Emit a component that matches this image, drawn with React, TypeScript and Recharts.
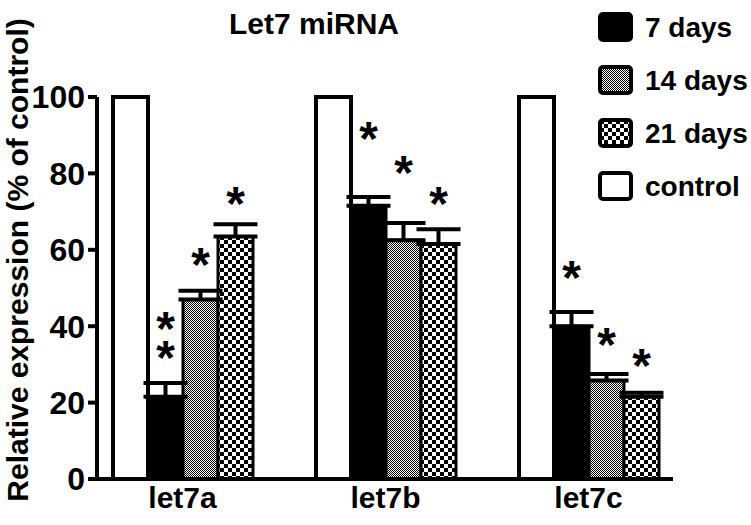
import React from 'react';
import { BarChart, Bar, XAxis, YAxis, ErrorBar, LabelList } from 'recharts';

const categories = ['let7a', 'let7b', 'let7c'];
const control = [100, 100, 100];
const days7 = [21.5, 71.5, 40];
const days14 = [47, 62.5, 25.8];
const days21 = [63.5, 61.5, 21.5];
const err7 = [3.6, 2.3, 3.7];
const err14 = [2.3, 4.5, 1.7];
const err21 = [3.2, 3.9, 1.1];
// asterisk heights (value units, centre of the lowest star) and how many
const star7 = [34.6, 92, 55.5];
const star14 = [59, 83, 38];
const star21 = [75, 75, 32.5];
const starCount7 = [2, 1, 1];
const yTicks = [0, 20, 40, 60, 80, 100];

const FONT = '"Liberation Sans", Arial, sans-serif';

const data = categories.map((name, i) => ({
  name,
  control: control[i],
  d7: days7[i],
  d14: days14[i],
  d21: days21[i],
  e7: [0, err7[i]],
  e14: [0, err14[i]],
  e21: [0, err21[i]],
}));

const Patterns = ({ prefix }: { prefix: string }) => (
  <defs>
    <pattern id={`${prefix}14`} width="2" height="2" patternUnits="userSpaceOnUse">
      <rect width="2" height="2" fill="#fff" />
      <rect x="0" y="0" width="1" height="1" fill="#000" />
      <rect x="1" y="1" width="1" height="1" fill="#000" />
    </pattern>
    <pattern id={`${prefix}21`} width="8" height="8" patternUnits="userSpaceOnUse">
      <rect width="8" height="8" fill="#fff" />
      <rect x="0" y="0" width="4" height="4" fill="#000" />
      <rect x="4" y="4" width="4" height="4" fill="#000" />
    </pattern>
  </defs>
);

// stars drawn in one text element; stacked stars are tspans
const starLabel = (values: number[], stars: number[], counts?: number[]) => (props: any) => {
  const { x, y, width, height, index } = props;
  const base = Number(y) + Number(height);
  const perUnit = Number(height) / values[index];
  const cy = base - stars[index] * perUnit;
  const cx = Number(x) + Number(width) / 2;
  const n = counts ? counts[index] : 1;
  const spans = [];
  for (let k = n - 1; k >= 0; k--) {
    spans.push(
      <tspan key={k} x={cx} y={cy - k * 29 + 27}>
        *
      </tspan>
    );
  }
  return (
    <text textAnchor="middle" fontSize={48} fontWeight="bold" fontFamily={FONT} fill="#000">
      {spans}
    </text>
  );
};

const legendItems = [
  { label: '7 days', fill: '#000', cy: 27 },
  { label: '14 days', fill: 'url(#lg14)', cy: 80 },
  { label: '21 days', fill: 'url(#lg21)', cy: 133 },
  { label: 'control', fill: '#fff', cy: 186 },
];

const YLabel = () => (
  <text
    x={28}
    y={260}
    transform="rotate(-90 28 260)"
    textAnchor="middle"
    fontSize={30}
    fontWeight="bold"
    fontFamily={FONT}
    fill="#000"
  >
    Relative expression (% of control)
  </text>
);

export default function App() {
  const axisFont = { fill: '#000', fontSize: 32, fontWeight: 'bold', fontFamily: FONT };
  return (
    <div style={{ position: 'absolute', left: 0, top: 0, width: 751, height: 525, background: '#fff' }}>
      <BarChart
        width={751}
        height={525}
        data={data}
        margin={{ top: 97, right: 78, bottom: 6, left: 17 }}
        barCategoryGap={32}
        barGap={0}
      >
        <Patterns prefix="p" />
        <XAxis
          dataKey="name"
          padding={{ left: -16, right: -17 }}
          height={40}
          axisLine={{ stroke: '#000', strokeWidth: 4 }}
          tickLine={false}
          tickSize={0}
          tickMargin={8}
          tick={{ fill: '#000', fontSize: 30, fontWeight: 'bold', fontFamily: FONT }}
        />
        <YAxis
          width={80}
          domain={[0, 100]}
          ticks={yTicks}
          axisLine={{ stroke: '#000', strokeWidth: 4 }}
          tickLine={{ stroke: '#000', strokeWidth: 4 }}
          tickSize={9}
          tickMargin={3}
          tick={axisFont}
          label={<YLabel />}
        />
        <Bar dataKey="control" fill="#fff" stroke="#000" strokeWidth={4} isAnimationActive={false} />
        <Bar dataKey="d7" fill="#000" stroke="#000" strokeWidth={3} isAnimationActive={false}>
          <ErrorBar dataKey="e7" width={22} stroke="#000" strokeWidth={4} direction="y" />
          <LabelList dataKey="d7" content={starLabel(days7, star7, starCount7)} />
        </Bar>
        <Bar dataKey="d14" fill="url(#p14)" stroke="#000" strokeWidth={3} isAnimationActive={false}>
          <ErrorBar dataKey="e14" width={22} stroke="#000" strokeWidth={4} direction="y" />
          <LabelList dataKey="d14" content={starLabel(days14, star14)} />
        </Bar>
        <Bar dataKey="d21" fill="url(#p21)" stroke="#000" strokeWidth={3} isAnimationActive={false}>
          <ErrorBar dataKey="e21" width={22} stroke="#000" strokeWidth={4} direction="y" />
          <LabelList dataKey="d21" content={starLabel(days21, star21)} />
        </Bar>
      </BarChart>
      <svg
        width={751}
        height={525}
        style={{ position: 'absolute', left: 0, top: 0, pointerEvents: 'none' }}
      >
        <Patterns prefix="lg" />
        <text x={314} y={34} textAnchor="middle" fontSize={30} fontWeight="bold" fontFamily={FONT} fill="#000">
          Let7 miRNA
        </text>
        {legendItems.map((it) => (
          <g key={it.label}>
            <rect x={600} y={it.cy - 13} width={31} height={26} rx={3} fill={it.fill} stroke="#000" strokeWidth={4} />
            <text x={645} y={it.cy + 10} fontSize={28} fontWeight="bold" fontFamily={FONT} fill="#000">
              {it.label}
            </text>
          </g>
        ))}
      </svg>
    </div>
  );
}
